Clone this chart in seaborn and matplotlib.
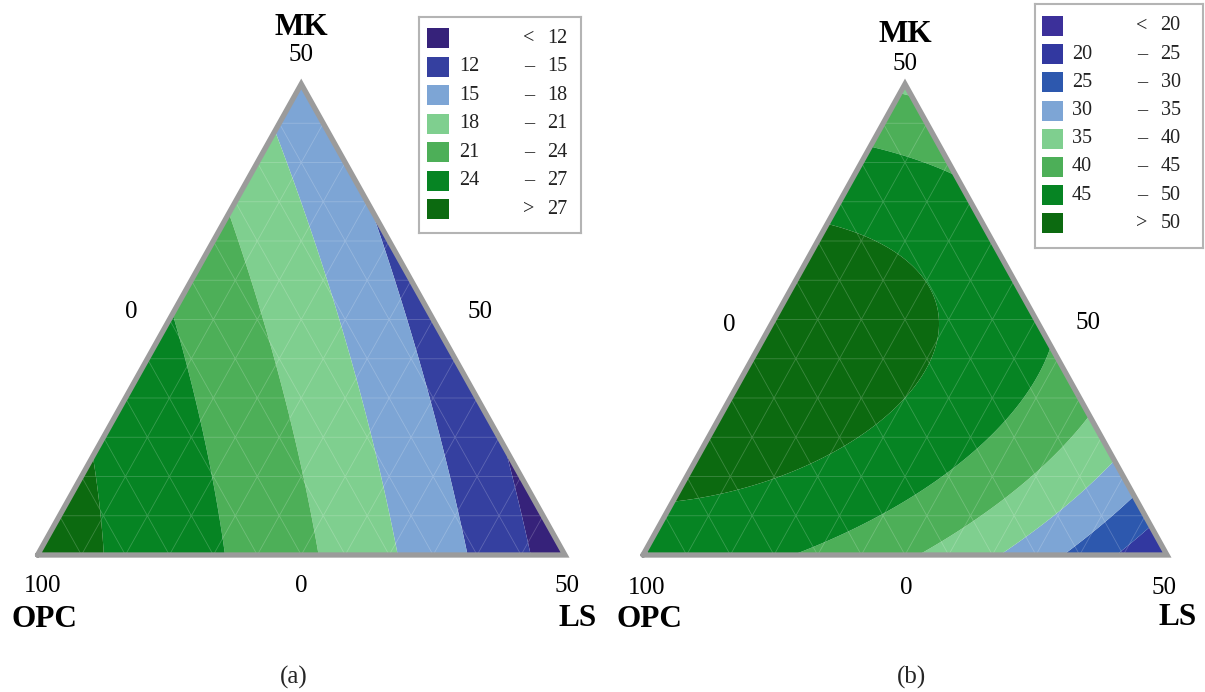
import numpy as np
import matplotlib
matplotlib.use("Agg")
import matplotlib.pyplot as plt
import matplotlib.tri as mtri
from matplotlib.patches import Rectangle
import seaborn as sns

# ---------------- data ----------------
components = ["OPC", "LS", "MK"]
vertex_values = ["100", "50", "50"]           # OPC, LS, MK corner labels
edge_mid_labels = ["0", "0", "50"]           # bottom, left edge, right edge

# panel (a): contour bands
levels_a = [12, 15, 18, 21, 24, 27]
colors_a = ["#36227a", "#3540a0", "#7da5d5", "#7fcf8f", "#4daf58", "#068423", "#0c6a10"]
lin_a = [28.22, 10.26, 16.07]
bin_a = [9.45, 8.02, 2.4]        # OPC*LS, OPC*MK, LS*MK
cub_a = [0.0, 0.0, 0.0]
ter_a = 0.0

# panel (b)
levels_b = [20, 25, 30, 35, 40, 45, 50]
colors_b = ["#3c309a", "#3238a0", "#2d58ae", "#7da5d5", "#7fcf8f", "#4daf58", "#068423", "#0c6a10"]
lin_b = [47.5, 19.5, 39.0]
bin_b = [28.74, 38.5, 67.4]
cub_b = [-4.12, -5.17, 8.04]
ter_b = -8.0

panel_tags = ["(a)", "(b)"]

# ---------------- style ----------------
sns.set_theme(style="white")
plt.rcParams["font.family"] = ["Liberation Serif", "DejaVu Serif"]

W, H = 1205, 692
fig = plt.figure(figsize=(W / 100, H / 100), dpi=100)

NAME_FS = 22.5
NUM_FS = 18
LEG_FS = 14.5
TAG_FS = 18


def model(c, b, a, lin, bino, cub, ter):
    return (lin[0] * c + lin[1] * b + lin[2] * a
            + bino[0] * c * b + bino[1] * c * a + bino[2] * b * a
            + cub[0] * c * b * (c - b) + cub[1] * c * a * (c - a) + cub[2] * b * a * (b - a)
            + ter * c * b * a)


def tern_grid(n):
    aa, bb = [], []
    for i in range(n + 1):
        for j in range(n + 1 - i):
            aa.append(i / n)
            bb.append(j / n)
    return np.array(aa), np.array(bb)


def draw_panel(rect_px, levels, colors, lin, bino, cub, ter, texts, tag_pos, tag):
    x0, x1, ytop, ybot = rect_px
    ax = fig.add_axes([x0 / W, (H - ybot) / H, (x1 - x0) / W, (ybot - ytop) / H])
    ax.set_xlim(0, 1)
    ax.set_ylim(0, 1)
    ax.axis("off")

    a, b = tern_grid(150)
    c = np.clip(1 - a - b, 0, 1)
    tri = mtri.Triangulation(b + a / 2, a)
    Z = model(c, b, a, lin, bino, cub, ter)
    lv = [-1e3] + list(levels) + [1e3]
    ax.tricontourf(tri, Z, levels=lv, colors=colors, antialiased=True)

    # faint mesh like the original software
    a2, b2 = tern_grid(12)
    tri2 = mtri.Triangulation(b2 + a2 / 2, a2)
    ax.triplot(tri2, color="white", alpha=0.2, lw=0.6)

    ax.plot([0, 1, 0.5, 0], [0, 0, 1, 0], color="#9b9b9b", lw=3.8,
            solid_joinstyle="miter", clip_on=False)

    for (tx, ty, s, bold) in texts:
        ax.text(tx, ty, s, ha="center", va="center",
                fontsize=NAME_FS if bold else NUM_FS,
                fontweight="bold" if bold else "normal", color="black", clip_on=False)
    ax.text(tag_pos[0], tag_pos[1], tag, ha="center", va="center", fontsize=TAG_FS, clip_on=False)
    return ax


def draw_legend(box_px, levels, colors, patch_x, row0, dy, col_low, col_op, col_high):
    bx0, by0, bx1, by1 = box_px
    lax = fig.add_axes([bx0 / W, (H - by1) / H, (bx1 - bx0) / W, (by1 - by0) / H])
    lax.set_xlim(0, bx1 - bx0)
    lax.set_ylim(by1 - by0, 0)
    lax.set_xticks([])
    lax.set_yticks([])
    for s in lax.spines.values():
        s.set_edgecolor("#b4b4b4")
        s.set_linewidth(1.5)
    n = len(colors)
    for k in range(n):
        yc = row0 + k * dy
        lax.add_patch(Rectangle((patch_x[0], yc - 10), patch_x[1] - patch_x[0], 20,
                                facecolor=colors[k], edgecolor="none"))
        if k == 0:
            low, op, high = "", "<", str(levels[0])
        elif k == n - 1:
            low, op, high = "", ">", str(levels[-1])
        else:
            low, op, high = str(levels[k - 1]), "\u2013", str(levels[k])
        lax.text(col_low, yc, low, ha="left", va="center", fontsize=LEG_FS, color="#222222")
        lax.text(col_op, yc, op, ha="center", va="center", fontsize=LEG_FS, color="#222222")
        lax.text(col_high, yc, high, ha="left", va="center", fontsize=LEG_FS, color="#222222")


texts_a = [
    (0.5, 1.121, components[2], True),
    (0.5, 1.062, vertex_values[2], False),
    (0.009, -0.066, vertex_values[0], False),
    (0.014, -0.136, components[0], True),
    (0.5, -0.066, edge_mid_labels[0], False),
    (1.004, -0.066, vertex_values[1], False),
    (1.023, -0.134, components[1], True),
    (0.177, 0.516, edge_mid_labels[1], False),
    (0.839, 0.516, edge_mid_labels[2], False),
]
texts_b = [
    (0.5, 1.106, components[2], True),
    (0.5, 1.042, vertex_values[2], False),
    (0.006, -0.070, vertex_values[0], False),
    (0.013, -0.136, components[0], True),
    (0.502, -0.070, edge_mid_labels[0], False),
    (0.994, -0.070, vertex_values[1], False),
    (1.021, -0.132, components[1], True),
    (0.164, 0.488, edge_mid_labels[1], False),
    (0.849, 0.493, edge_mid_labels[2], False),
]

draw_panel((37.5, 565, 84, 555), levels_a, colors_a, lin_a, bin_a, cub_a, ter_a,
           texts_a, (0.486, -0.261), panel_tags[0])
draw_panel((643, 1167, 84, 555), levels_b, colors_b, lin_b, bin_b, cub_b, ter_b,
           texts_b, (0.513, -0.261), panel_tags[1])

draw_legend((419, 17, 581, 233), levels_a, colors_a, (8, 30), 21.3, 28.5, 40, 110, 128)
draw_legend((1035, 4, 1203, 248), levels_b, colors_b, (6.7, 28.3), 22, 28.19, 37, 106.7, 125.5)

fig.savefig("out.png", dpi=100)
